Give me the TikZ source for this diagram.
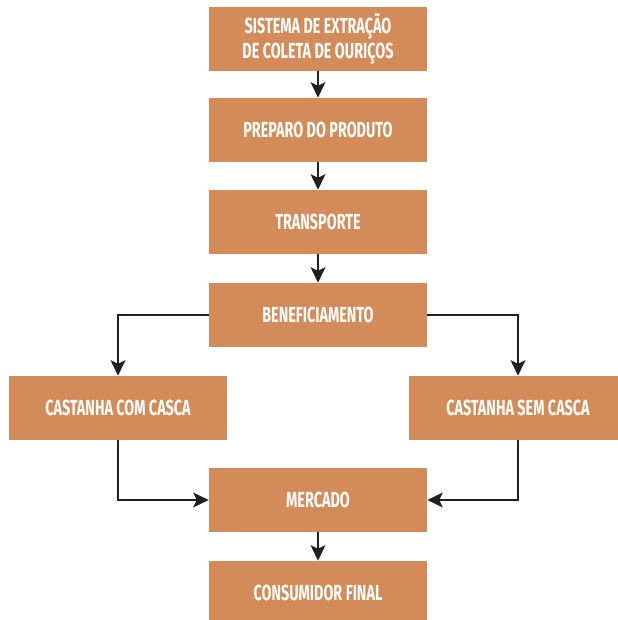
\documentclass[tikz,border=0pt]{standalone}
\usepackage{fontspec}
\setmainfont{Fira Sans}[FakeStretch=0.66]
\usetikzlibrary{arrows.meta}
\definecolor{caixa}{HTML}{D38B59}
\definecolor{seta}{HTML}{231F20}

\begin{document}
\begin{tikzpicture}[x=0.025cm,y=-0.025cm,
  every node/.style={fill=caixa,text=white,minimum width=5.45cm,minimum height=1.6cm,
    align=center,font=\bfseries\fontsize{15.5}{17.7}\selectfont,inner sep=0pt},
  ligacao/.style={draw=seta,line width=1.4pt,-{Stealth[length=11pt,width=10.5pt,inset=2.5pt]}}]

\useasboundingbox (0,0) rectangle (618,620);

\node(1) at (318,39) {SISTEMA DE EXTRAÇÃO\\DE COLETA DE OURIÇOS};
\node(2) at (318,130) {PREPARO DO PRODUTO};
\node(3) at (318,222) {TRANSPORTE};
\node(4) at (318,315) {BENEFICIAMENTO};
\node(5) at (118,408) {CASTANHA COM CASCA};
\node(6) at (518,408) {CASTANHA SEM CASCA};
\node(7) at (318,500) {MERCADO};
\node(8) at (318,593) {CONSUMIDOR FINAL};

\foreach \x/\y in {1/2,2/3,3/4,7/8}
	\draw[ligacao](\x)--(\y);

\draw[ligacao](4.west)-|(5.north);
\draw[ligacao](4.east)-|(6.north);
\draw[ligacao](5.south)|-(7.west);
\draw[ligacao](6.south)|-(7.east);

\end{tikzpicture}
\end{document}
